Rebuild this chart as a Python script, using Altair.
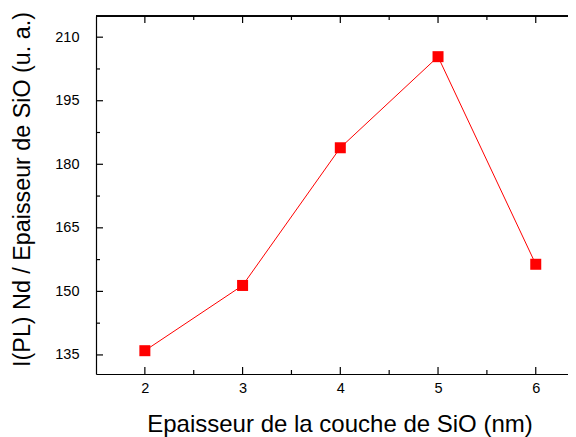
import altair as alt
import pandas as pd

# data
thickness = [2, 3, 4, 5, 6]
intensity = [136.0, 151.4, 183.9, 205.4, 156.4]

x_major = [2, 3, 4, 5, 6]
x_minor = [2.5, 3.5, 4.5, 5.5]
y_major = [135, 150, 165, 180, 195, 210]
y_minor = [142.5, 157.5, 172.5, 187.5, 202.5]

x_domain = [1.5, 6.33]
y_domain = [130.5, 215]

x_title = "Epaisseur de la couche de SiO (nm)"
y_title = "I(PL) Nd / Epaisseur de SiO (u. a.)"

W, H = 472, 358
FONT = "Liberation Sans"
RED = "#ff0000"

df = pd.DataFrame({"x": thickness, "y": intensity})

xs = alt.Scale(domain=x_domain, nice=False, zero=False)
ys = alt.Scale(domain=y_domain, nice=False, zero=False)

x_axis = alt.Axis(
    values=x_major, format="d", ticks=False, grid=False, domain=True, domainColor="black",
    domainWidth=1.2, labelFont=FONT, labelFontSize=14.5, labelColor="black",
    labelPadding=7, title=x_title, titleFont=FONT, titleFontSize=24,
    titleFontWeight="normal", titleColor="black", titleX=243.5, titleY=57.5,
    titleBaseline="alphabetic", titleAlign="center", labelFlush=False,
)
y_axis = alt.Axis(
    values=y_major, format="d", ticks=False, grid=False, domain=True, domainColor="black",
    domainWidth=1.2, labelFont=FONT, labelFontSize=14.5, labelColor="black",
    labelPadding=17, title=y_title, titleFont=FONT, titleFontSize=23.3,
    titleFontWeight="normal", titleColor="black", titleAngle=-90,
    titleX=-67, titleY=173, titleBaseline="alphabetic", titleAlign="center",
    labelFlush=False,
)

line = alt.Chart(df).mark_line(color=RED, strokeWidth=1).encode(
    x=alt.X("x:Q", scale=xs, axis=x_axis),
    y=alt.Y("y:Q", scale=ys, axis=y_axis),
)
pts = alt.Chart(df).mark_point(shape="square", filled=True, size=121, color=RED, opacity=1).encode(
    x=alt.X("x:Q", scale=xs),
    y=alt.Y("y:Q", scale=ys),
)

xmaj = pd.DataFrame({"v": x_major})
xmin = pd.DataFrame({"v": x_minor})
ymaj = pd.DataFrame({"v": y_major})
ymin = pd.DataFrame({"v": y_minor})


def xticks(d, length):
    bot = alt.Chart(d).mark_tick(color="black", thickness=1.2, size=length, opacity=1).encode(
        x=alt.X("v:Q", scale=xs), y=alt.value(H - length / 2))
    top = alt.Chart(d).mark_tick(color="black", thickness=1.2, size=length, opacity=1).encode(
        x=alt.X("v:Q", scale=xs), y=alt.value(length / 2))
    return [bot, top]


def yticks(d, length):
    return [alt.Chart(d).mark_tick(color="black", thickness=1.2, size=length, opacity=1).encode(
        y=alt.Y("v:Q", scale=ys), x=alt.value(length / 2))]


top_line = alt.Chart(xmaj).mark_rule(color="black", strokeWidth=1.2).encode(
    x=alt.value(0), x2=alt.value(W), y=alt.value(0))

layers = [line, pts, top_line] + xticks(xmaj, 7) + xticks(xmin, 4) + yticks(ymaj, 7) + yticks(ymin, 4)

chart = alt.layer(*layers).properties(
    width=W, height=H,
    autosize=alt.AutoSizeParams(type="none"),
    padding={"left": 88, "top": 8, "right": 0, "bottom": 63},
).configure_view(stroke=None).configure(background="white")

chart.save("out.html", embed_options={"renderer": "svg", "actions": False})
